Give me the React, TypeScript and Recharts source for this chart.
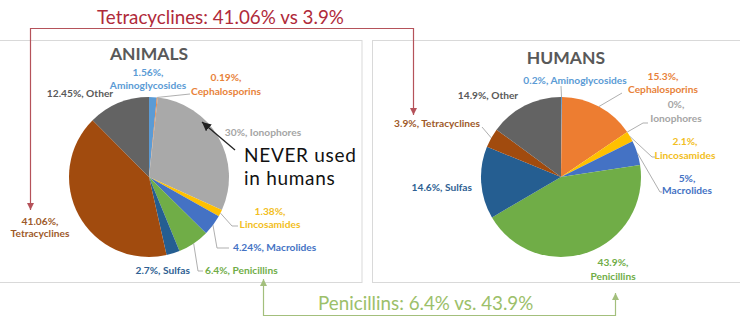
import React from 'react';
import { PieChart, Pie, Cell } from 'recharts';

// Antibiotic classes, listed clockwise from 12 o'clock
const categories = [
  'Aminoglycosides',
  'Cephalosporins',
  'Ionophores',
  'Lincosamides',
  'Macrolides',
  'Penicillins',
  'Sulfas',
  'Tetracyclines',
  'Other',
];

// Share of antibiotic use (%)
const animalShares = [1.56, 0.19, 30, 1.38, 4.24, 6.4, 2.7, 41.06, 12.45];
const humanShares = [0.2, 15.3, 0, 2.1, 5, 43.9, 14.6, 3.9, 14.9];

const panelTitles = ['ANIMALS', 'HUMANS'];

const sliceColors = [
  '#5B9BD5',
  '#ED7D31',
  '#A9A9A9',
  '#FFC000',
  '#4472C4',
  '#70AD47',
  '#255E91',
  '#A14B0E',
  '#636363',
];
const labelColors = [
  '#5B9BD5',
  '#E8823A',
  '#A5A5A5',
  '#F2BE22',
  '#4472C4',
  '#70AD47',
  '#2F5F93',
  '#9E5A2A',
  '#595959',
];

const toRows = (shares: number[]) =>
  categories.map((name, i) => ({ name, value: shares[i] }));

const animalRows = toRows(animalShares);
const humanRows = toRows(humanShares);

type LabelSpot = {
  dx: number;
  dy: number;
  anchor: 'start' | 'middle' | 'end';
  twoLine?: boolean;
  gap?: number;
  leader?: [number, number][];
};

// Label placement relative to each pie's centre
const animalLabelSpots: LabelSpot[] = [
  { dx: -1, dy: -101.5, anchor: 'middle', twoLine: true, gap: 13 },
  { dx: 77, dy: -96.5, anchor: 'middle', twoLine: true, gap: 14, leader: [[41, -83]] },
  { dx: 114, dy: -41.5, anchor: 'middle' },
  { dx: 121, dy: 37.5, anchor: 'middle', twoLine: true, gap: 13, leader: [[83, 49], [89, 49]] },
  { dx: 84, dy: 73.5, anchor: 'start', leader: [[68, 71], [80, 71]] },
  { dx: 56, dy: 96.5, anchor: 'start', leader: [[49, 94], [54, 94]] },
  { dx: 41, dy: 96.5, anchor: 'end' },
  { dx: -109, dy: 47.5, anchor: 'middle', twoLine: true, gap: 12 },
  { dx: -69, dy: -80.5, anchor: 'middle' },
];

const humanLabelSpots: LabelSpot[] = [
  { dx: 14, dy: -93.5, anchor: 'middle', leader: [[0, -91]] },
  { dx: 102, dy: -97.5, anchor: 'middle', twoLine: true, gap: 13, leader: [[61, -84]] },
  { dx: 115, dy: -69.5, anchor: 'middle', twoLine: true, gap: 14, leader: [[82, -54], [87, -54]] },
  { dx: 124, dy: -32.5, anchor: 'middle', twoLine: true, gap: 14, leader: [[91, -20], [94, -20]] },
  { dx: 126, dy: 4.5, anchor: 'middle', twoLine: true, gap: 12, leader: [[99, 15], [101, 15]] },
  { dx: 52, dy: 88.5, anchor: 'middle', twoLine: true, gap: 14 },
  { dx: -89, dy: 13.5, anchor: 'end' },
  { dx: -81, dy: -50.5, anchor: 'end', leader: [[-79, -50]] },
  { dx: -73, dy: -78.5, anchor: 'middle' },
];

const RAD = Math.PI / 180;
const LABEL_FONT = 'Lato, "Open Sans", sans-serif';

const makeLabel = (spots: LabelSpot[]) => (props: any) => {
  const { cx, cy, midAngle, outerRadius, index, value, name } = props;
  const spot = spots[index];
  if (!spot) return null;
  const color = labelColors[index];
  const ex = cx + Math.cos(-midAngle * RAD) * outerRadius;
  const ey = cy + Math.sin(-midAngle * RAD) * outerRadius;
  const tx = cx + spot.dx;
  const ty = cy + spot.dy;
  const pct = `${value}%,`;
  let leader = null;
  if (spot.leader) {
    const pts = [[ex, ey], ...spot.leader.map(([a, b]) => [cx + a, cy + b])]
      .map((p) => p.join(','))
      .join(' ');
    leader = <polyline points={pts} fill="none" stroke="#A6A6A6" strokeWidth={0.9} />;
  }
  return (
    <g key={`lbl-${index}`}>
      {leader}
      <text
        x={tx}
        y={ty}
        textAnchor={spot.anchor}
        fill={color}
        fontFamily={LABEL_FONT}
        fontWeight={700}
        fontSize={10.2}
      >
        {spot.twoLine ? (
          <>
            <tspan x={tx}>{pct}</tspan>
            <tspan x={tx} dy={spot.gap ?? 13}>
              {name}
            </tspan>
          </>
        ) : (
          `${pct} ${name}`
        )}
      </text>
    </g>
  );
};

const W = 740;
const H = 321;
const PIE_R = 80;
const PIE_Y = 177;
const ANIMAL_X = 149;
const HUMAN_X = 561;

const TET = categories.indexOf('Tetracyclines');
const PEN = categories.indexOf('Penicillins');

export default function App() {
  const layer: React.CSSProperties = { position: 'absolute', left: 0, top: 0 };
  return (
    <div style={{ position: 'absolute', left: 0, top: 0, width: W, height: H, background: '#fff', overflow: 'hidden' }}>
      {/* panel frames */}
      <svg width={W} height={H} style={layer}>
        <rect x={-2} y={40.5} width={364} height={242} fill="#fff" stroke="#D9D9D9" strokeWidth={1} />
        <rect x={372.5} y={40.5} width={370} height={242} fill="#fff" stroke="#D9D9D9" strokeWidth={1} />
        <text x={ANIMAL_X} y={60} textAnchor="middle" fontFamily={LABEL_FONT} fontWeight={700} fontSize={17.5} fill="#595959">
          {panelTitles[0]}
        </text>
        <text x={566} y={63.5} textAnchor="middle" fontFamily={LABEL_FONT} fontWeight={700} fontSize={17.5} fill="#595959">
          {panelTitles[1]}
        </text>
      </svg>

      <div style={layer}>
        <PieChart width={W} height={H} margin={{ top: 0, right: 0, bottom: 0, left: 0 }}>
          <Pie
            data={animalRows}
            dataKey="value"
            nameKey="name"
            cx={ANIMAL_X}
            cy={PIE_Y}
            outerRadius={PIE_R}
            startAngle={90}
            endAngle={-270}
            stroke="none"
            isAnimationActive={false}
            labelLine={false}
            label={makeLabel(animalLabelSpots)}
          >
            {animalRows.map((r, i) => (
              <Cell key={r.name} fill={sliceColors[i]} />
            ))}
          </Pie>
          <Pie
            data={humanRows}
            dataKey="value"
            nameKey="name"
            cx={HUMAN_X}
            cy={PIE_Y}
            outerRadius={PIE_R}
            startAngle={90}
            endAngle={-270}
            stroke="none"
            isAnimationActive={false}
            labelLine={false}
            label={makeLabel(humanLabelSpots)}
          >
            {humanRows.map((r, i) => (
              <Cell key={r.name} fill={sliceColors[i]} />
            ))}
          </Pie>
        </PieChart>
      </div>

      {/* comparison callouts */}
      <svg width={W} height={H} style={layer}>
        <defs>
          <marker id="arrRed" viewBox="0 0 10 10" refX="10" refY="5" markerWidth="7" markerHeight="7" markerUnits="userSpaceOnUse" orient="auto-start-reverse">
            <path d="M0,0 L10,5 L0,10 z" fill="#B5525A" />
          </marker>
          <marker id="arrGreen" viewBox="0 0 10 10" refX="10" refY="5" markerWidth="7" markerHeight="7" markerUnits="userSpaceOnUse" orient="auto-start-reverse">
            <path d="M0,0 L10,5 L0,10 z" fill="#A3BF7C" />
          </marker>
          <marker id="arrBlack" viewBox="0 0 10 10" refX="10" refY="5" markerWidth="9" markerHeight="9" markerUnits="userSpaceOnUse" orient="auto">
            <path d="M0,0 L10,5 L0,10 z" fill="#222" />
          </marker>
        </defs>
        <path d="M30.5,210 V28.5 H413.5 V115" fill="none" stroke="#B5525A" strokeWidth={1.2} markerStart="url(#arrRed)" markerEnd="url(#arrRed)" />
        <text x={97} y={24} fontFamily={LABEL_FONT} fontSize={18.8} fill="#B02A3A">
          {`${categories[TET]}: ${animalShares[TET]}% vs ${humanShares[TET]}%`}
        </text>
        <path d="M263.5,279 V315.5 H615.5 V293" fill="none" stroke="#A3BF7C" strokeWidth={1.2} markerStart="url(#arrGreen)" markerEnd="url(#arrGreen)" />
        <text x={318} y={310} fontFamily={LABEL_FONT} fontSize={18.8} fill="#9CC06A">
          {`${categories[PEN]}: ${animalShares[PEN]}% vs. ${humanShares[PEN]}%`}
        </text>
        <line x1={235} y1={150} x2={202} y2={122} stroke="#222" strokeWidth={1.3} markerEnd="url(#arrBlack)" />
        <text x={244} y={161.5} fontFamily={LABEL_FONT} fontSize={19} letterSpacing={0.7} fill="#111">
          NEVER used
        </text>
        <text x={244} y={184.5} fontFamily={LABEL_FONT} fontSize={19} letterSpacing={0.7} fill="#111">
          in humans
        </text>
      </svg>
    </div>
  );
}
